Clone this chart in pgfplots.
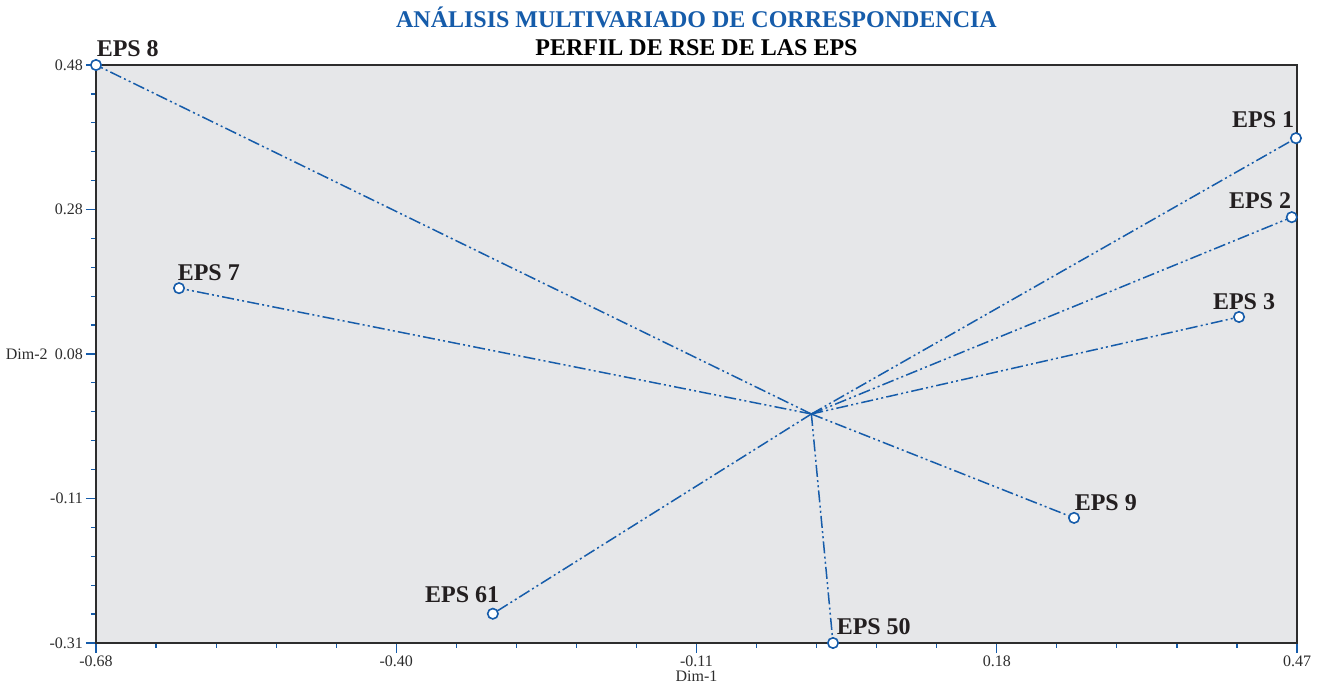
\documentclass[border=0pt]{standalone}
\usepackage{fontspec}
\setmainfont{Liberation Serif}
\usepackage{pgfplots}
\pgfplotsset{compat=1.18}
\definecolor{mblue}{RGB}{22,92,170}
\definecolor{bgc}{RGB}{230,231,233}
\definecolor{axc}{RGB}{45,45,45}
\tikzset{lbl/.style={font=\fontsize{12}{14}\selectfont\bfseries, text={rgb,255:red,35;green,31;blue,32}, inner sep=0pt}}
\pgfplotsset{myline/.style={draw=mblue, line width=0.75pt,
    dash pattern=on 6pt off 1.6pt on 1pt off 1.6pt on 1pt off 1.6pt,
    mark=*, mark indices={2}, mark size=2.6pt,
    mark options={solid, fill=white, draw=mblue, line width=0.8pt}}}
\begin{document}
\begin{tikzpicture}
\begin{axis}[
  name=ax,
  scale only axis, width=600.5pt, height=289pt,
  xmin=-0.68, xmax=0.47, ymin=-0.31, ymax=0.48,
  clip=false,
  axis background/.style={fill=bgc},
  axis line style={axc, line width=0.6pt},
  tick pos=left, tick align=outside,
  major tick length=5pt, minor tick length=2.5pt,
  tick style={mblue, line width=0.6pt},
  minor tick num=4,
  xtick={-0.68,-0.3925,-0.105,0.1825,0.47},
  xticklabels={-0.68,-0.40,-0.11,0.18,0.47},
  ytick={0.48,0.2825,0.085,-0.1125,-0.31},
  yticklabels={0.48,0.28,0.08,-0.11,-0.31},
  ticklabel style={font=\fontsize{8}{9}\selectfont, text=axc},
  yticklabel style={xshift=2pt},
  xticklabel style={yshift=2pt},
  /pgf/number format/assume math mode=true,
  xlabel={Dim-1}, ylabel={Dim-2},
  xlabel style={font=\fontsize{8}{9}\selectfont, text=axc, inner sep=0pt, yshift=1.5pt},
  every axis y label/.style={at={(rel axis cs:0,0.5)}, anchor=east, xshift=-24pt,
    font=\fontsize{8}{9}\selectfont, text=axc, inner sep=0pt},
  title={{\color{mblue}ANÁLISIS MULTIVARIADO DE CORRESPONDENCIA}\\PERFIL DE RSE DE LAS EPS},
  title style={font=\fontsize{12}{14}\selectfont\bfseries, align=center, inner sep=0pt,
    at={(0.5,1)}, anchor=south, yshift=-1.5pt},
]
\addplot[myline] coordinates {(0.005,0.003) (-0.68,0.48)} node[lbl, pos=1, anchor=base west, shift={(0pt,4.5pt)}] {EPS 8};
\addplot[myline] coordinates {(0.005,0.003) (0.469,0.380)} node[lbl, pos=1, anchor=base east, shift={(-0.5pt,5.5pt)}] {EPS 1};
\addplot[myline] coordinates {(0.005,0.003) (0.465,0.272)} node[lbl, pos=1, anchor=base east, shift={(0pt,4.5pt)}] {EPS 2};
\addplot[myline] coordinates {(0.005,0.003) (0.4145,0.1356)} node[lbl, pos=1, anchor=base, shift={(2.5pt,3.5pt)}] {EPS 3};
\addplot[myline] coordinates {(0.005,0.003) (-0.6005,0.175)} node[lbl, pos=1, anchor=base west, shift={(-1pt,4pt)}] {EPS 7};
\addplot[myline] coordinates {(0.005,0.003) (0.2565,-0.139)} node[lbl, pos=1, anchor=base west, shift={(0pt,3.5pt)}] {EPS 9};
\addplot[myline] coordinates {(0.005,0.003) (-0.300,-0.270)} node[lbl, pos=1, anchor=base east, shift={(3.5pt,5.5pt)}] {EPS 61};
\addplot[myline] coordinates {(0.005,0.003) (0.0257,-0.31)} node[lbl, pos=1, anchor=base west, shift={(1.5pt,4pt)}] {EPS 50};
\end{axis}
\pgfresetboundingbox
\path[use as bounding box] ([xshift=-48pt,yshift=-20.5pt]ax.south west) rectangle ([xshift=11.5pt,yshift=32.5pt]ax.north east);
\end{tikzpicture}
\end{document}
